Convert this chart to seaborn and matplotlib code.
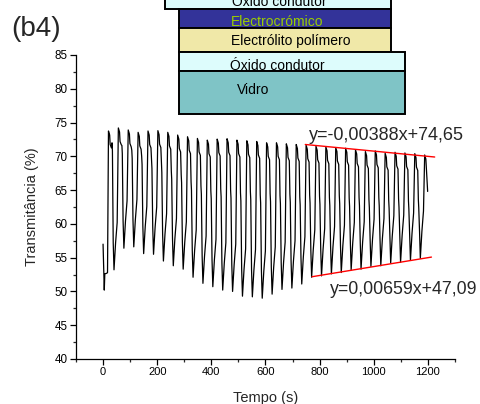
import numpy as np
import pandas as pd
import matplotlib
matplotlib.use("Agg")
import matplotlib.pyplot as plt
from matplotlib.patches import Rectangle
from matplotlib.ticker import MultipleLocator
import seaborn as sns

# ---- cycling data: transmittance (%) vs time (s) ----
period = 36.5          # switching period, s
first_peak_time = 20.0

# initial transient before the first bleaching step
lead_time = [0.0, 3.0, 4.5, 6.5, 14.0, 16.5]
lead_trans = [57.0, 52.6, 50.2, 52.6, 52.7, 52.8]

# bleached maxima of each cycle
peak_trans = [73.75, 74.2, 73.9, 73.55, 73.75, 73.8, 73.55, 73.15, 72.9, 72.65, 72.4,
              72.55, 72.6, 72.4, 72.3, 72.2, 72.0, 72.0, 71.85, 71.75, 71.65,
              71.5, 71.4, 71.3, 71.2, 70.95, 70.7, 70.8, 70.45, 70.6, 70.5, 70.4, 70.2]

# kink on the colouring branch of each cycle
fall_kink_trans = [72.0, 71.6, 70.9, 70.0, 69.4, 68.8, 67.8, 67.3, 66.2, 65.6, 64.9,
                   65.2, 65.0, 64.6, 64.8, 64.3, 64.5, 64.2, 64.4, 64.0, 64.3,
                   64.1, 63.9, 64.2, 63.8, 63.9, 63.6, 63.9, 63.5, 63.7, 63.4, 63.6, 64.8]

# coloured minima following each peak
trough_trans = [53.2, 56.4, 56.6, 55.6, 55.5, 54.5, 53.8, 53.3, 52.1, 51.2, 50.7,
                50.2, 50.0, 49.3, 49.2, 49.0, 49.6, 50.3, 50.5, 51.1, 52.1,
                52.3, 52.6, 52.8, 53.2, 53.3, 53.7, 53.8, 54.2, 54.3, 54.6, 54.9]

# linear fits of maxima and minima (slope, intercept, time range)
fit_top = (-0.00388, 74.65, 747.0, 1225.0)
fit_bottom = (0.00659, 47.09, 772.0, 1213.0)
fit_top_label = "y=-0,00388x+74,65"
fit_bottom_label = "y=0,00659x+47,09"

# build the sampled trace cycle by cycle
times = list(lead_time)
trans = list(lead_trans)
for k, (peak, kink) in enumerate(zip(peak_trans, fall_kink_trans)):
    tp = first_peak_time + k * period
    if k < len(trough_trans):
        low = trough_trans[k]
        times += [tp, tp + 0.12 * period, tp + 0.17 * period, tp + 0.30 * period,
                  tp + 0.36 * period, tp + 0.40 * period, tp + 0.48 * period,
                  tp + 0.56 * period, tp + 0.72 * period, tp + 0.88 * period]
        trans += [peak, peak - 0.6, peak - 2.0, peak - 2.5,
                  kink, kink - 1.2, low + 4.0, low, low + 4.0, low + 7.0]
    else:
        # last, truncated cycle
        times += [tp, tp + 0.12 * period, tp + 0.17 * period, 1199.0]
        trans += [peak, peak - 0.6, peak - 2.0, kink]

df = pd.DataFrame({"Tempo": times, "Transmitancia": trans})

sns.set_theme(style="ticks")
plt.rcParams["font.family"] = ["Liberation Sans", "DejaVu Sans"]

fig = plt.figure(figsize=(4.8, 4.04), dpi=100)
ax = fig.add_axes([0.1583, 0.1114, 0.7896, 0.7525])

sns.lineplot(data=df, x="Tempo", y="Transmitancia", estimator=None, sort=False,
             color="black", linewidth=0.9, ax=ax)

for slope, icpt, t0, t1 in (fit_top, fit_bottom):
    xs = np.array([t0, t1])
    ax.plot(xs, slope * xs + icpt, color="red", linewidth=1.0)

ax.set_xlim(-100, 1300)
ax.set_ylim(40, 85)
ax.xaxis.set_major_locator(MultipleLocator(200))
ax.xaxis.set_minor_locator(MultipleLocator(100))
ax.yaxis.set_major_locator(MultipleLocator(5))
ax.yaxis.set_minor_locator(MultipleLocator(2.5))
ax.tick_params(which="major", direction="out", length=4, width=0.9, labelsize=8,
               colors="black", pad=2)
ax.tick_params(axis="y", which="major", labelsize=8.4)
ax.tick_params(which="minor", direction="out", length=2.5, width=0.9)
for side in ("top", "right"):
    ax.spines[side].set_visible(False)
for side in ("left", "bottom"):
    ax.spines[side].set_color("black")
    ax.spines[side].set_linewidth(0.9)
ax.set_xlabel("Tempo (s)", fontsize=10.5, labelpad=10)
ax.set_ylabel("Transmitância (%)", fontsize=10.5, labelpad=11)

# overlay in pixel coordinates for the panel tag, fit labels and the device stack
ov = fig.add_axes([0, 0, 1, 1], zorder=5)
ov.set_xlim(0, 480)
ov.set_ylim(404, 0)
ov.axis("off")
ov.patch.set_alpha(0)

ov.text(11, 29, "(b4)", fontsize=20, ha="left", va="center")
ov.text(309, 136, fit_top_label, fontsize=13, ha="left", va="center")
ov.text(330, 290, fit_bottom_label, fontsize=12.8, ha="left", va="center")

layers = [
    ((165.0, -5.0, 390.7, 9.3), "#dcfcfc", "Óxido condutor", 232, 2.5, "black"),
    ((179.3, 9.3, 390.7, 28.3), "#333399", "Electrocrómico", 231, 22.5, "#9acd00"),
    ((179.3, 28.3, 390.7, 52.3), "#f0e8a8", "Electrólito polímero", 231, 41.0, "black"),
    ((179.3, 52.3, 405.0, 71.0), "#ddfcfc", "Óxido condutor", 230, 65.5, "black"),
    ((179.3, 71.0, 405.0, 114.3), "#7fc4c6", "Vidro", 237, 90.0, "black"),
]
for (x0, y0, x1, y1), fc, label, tx, ty, tc in layers:
    ov.add_patch(Rectangle((x0, y0), x1 - x0, y1 - y0, facecolor=fc,
                           edgecolor="black", linewidth=1.4))
    ov.text(tx, ty, label, fontsize=10, ha="left", va="center", color=tc)

fig.savefig("out.png", dpi=100)
